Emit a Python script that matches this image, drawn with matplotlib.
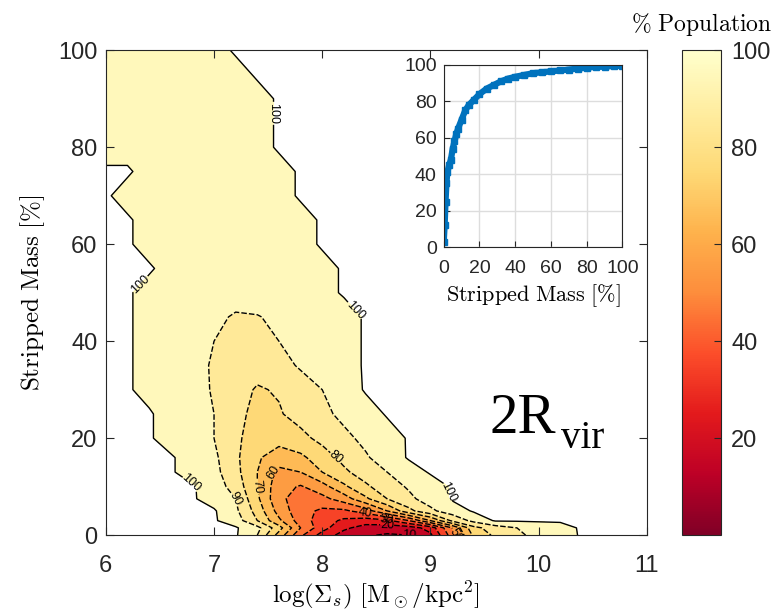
import numpy as np
import matplotlib
matplotlib.use('Agg')
import matplotlib.pyplot as plt
from matplotlib.colors import Normalize
from matplotlib.cm import ScalarMappable

plt.rcParams['font.family'] = ['Liberation Sans', 'DejaVu Sans']
plt.rcParams['mathtext.fontset'] = 'cm'

n = np.nan

# grid of the % population map
log_sigma = [6.0, 6.2, 6.4, 6.6, 6.8, 7.0, 7.2, 7.4, 7.6, 7.8, 8.0, 8.2,
             8.4, 8.6, 8.8, 9.0, 9.2, 9.4, 9.6, 9.8, 10.0, 10.2, 10.4]
stripped = [0, 1.5, 3, 5, 7.5, 10, 13, 16, 20, 25, 30, 35, 40, 45,
            50, 55, 60, 65, 70, 75, 80, 85, 90, 95, 100]
population = [
    [n, n, n, n, n, n, n, 90, 66, 42, 26, 16, 11, 9, 10, 18, 45, 72, 82, 88, 93, 96, n],
    [n, n, n, n, n, n, n, 93, 74, 50, 34, 22, 16, 14, 15, 24, 50, 77, 85, 90, 95, 97, n],
    [n, n, n, n, n, n, 95, 80, 62, 45, 35, 28, 25, 28, 40, 60, 82, 93, n, n, n, n, n],
    [n, n, n, n, n, n, 92, 76, 56, 44, 38, 38, 45, 60, 77, 88, 95, n, n, n, n, n, n],
    [n, n, n, n, n, 96, 90, 72, 52, 46, 47, 55, 68, 80, 88, 94, n, n, n, n, n, n, n],
    [n, n, n, n, n, 95, 86, 70, 54, 49, 56, 68, 78, 86, 91, 95, n, n, n, n, n, n, n],
    [n, n, n, n, 96, 93, 83, 70, 57, 60, 70, 78, 85, 90, 95, n, n, n, n, n, n, n, n],
    [n, n, n, n, 96, 92, 82, 71, 66, 68, 75, 83, 89, 94, n, n, n, n, n, n, n, n, n],
    [n, n, n, 96, 94, 90, 82, 75, 73, 77, 83, 88, 92, 95, n, n, n, n, n, n, n, n, n],
    [n, n, n, 96, 94, 90, 83, 77, 79, 84, 88, 92, 95, n, n, n, n, n, n, n, n, n, n],
    [n, n, 97, 96, 94, 89, 84, 79, 81, 86, 90, 94, n, n, n, n, n, n, n, n, n, n, n],
    [n, n, 97, 96, 93, 89, 86, 84, 87, 91, 94, 96, n, n, n, n, n, n, n, n, n, n, n],
    [n, n, 97, 96, 94, 90, 88, 87, 90, 93, 95, 96, n, n, n, n, n, n, n, n, n, n, n],
    [n, n, 97, 96, 95, 92, 89, 89.5, 92, 94, 95, 96, n, n, n, n, n, n, n, n, n, n, n],
    [n, n, 97, 97, 97, 96, 94, 95, 96, 97, 97, n, n, n, n, n, n, n, n, n, n, n, n],
    [n, n, n, 97, 97, 97, 97, 97, 97, 97, 97, n, n, n, n, n, n, n, n, n, n, n, n],
    [n, n, 97, 97, 97, 97, 97, 97, 97, 97, n, n, n, n, n, n, n, n, n, n, n, n, n],
    [n, n, 97, 97, 97, 97, 97, 97, 97, 97, n, n, n, n, n, n, n, n, n, n, n, n, n],
    [n, 97, 97, 97, 97, 97, 97, 97, 97, n, n, n, n, n, n, n, n, n, n, n, n, n, n],
    [n, n, 97, 97, 97, 97, 97, 97, 97, n, n, n, n, n, n, n, n, n, n, n, n, n, n],
    [97, 97, 97, 97, 97, 97, 97, 97, n, n, n, n, n, n, n, n, n, n, n, n, n, n, n],
    [97, 97, 97, 97, 97, 97, 97, 97, n, n, n, n, n, n, n, n, n, n, n, n, n, n, n],
    [97, 97, 97, 97, 97, 97, 97, 97, n, n, n, n, n, n, n, n, n, n, n, n, n, n, n],
    [97, 97, 97, 97, 97, 97, 97, n, n, n, n, n, n, n, n, n, n, n, n, n, n, n, n],
    [97, 97, 97, 97, 97, 97, n, n, n, n, n, n, n, n, n, n, n, n, n, n, n, n, n],
]

# inset: cumulative population vs stripped mass
cum_mass = [0, 0.5, 1, 1.5, 2, 3, 4, 5, 6, 7, 8, 10, 12, 14, 17, 20, 24, 28,
            32, 36, 40, 45, 50, 55, 60, 65, 70, 75, 80, 85, 90, 95, 100]
cum_pop = [3, 12, 25, 35, 41, 45, 48, 54, 58, 62, 65, 70, 75, 78, 81, 84, 87, 89,
           91, 92.5, 93.5, 94.5, 95.5, 96, 96.5, 97, 97.5, 98, 98.5, 99, 99, 99.5, 99.5]

X, Y = np.meshgrid(log_sigma, stripped)
Z = np.array(population, dtype=float)
Zc = np.where(np.isnan(Z), 101, Z)

cmap = plt.get_cmap('YlOrRd_r')
norm = Normalize(vmin=0, vmax=100)
levels = np.arange(0, 101, 10)
tick_col = '#262626'

fig = plt.figure(figsize=(7.84, 6.13), dpi=100)
ax = fig.add_axes([0.135, 0.127, 0.690, 0.791])
ax.contourf(X, Y, Zc, levels=levels, cmap=cmap, norm=norm)
cs_in = ax.contour(X, Y, Zc, levels=levels[1:-1], colors='k', linewidths=1.0,
                   linestyles=[(0, (4, 1.5))])
cs_out = ax.contour(X, Y, Zc, levels=[100], colors='k', linewidths=1.0)
# labels on the outer 100 line where the reference shows them
ax.clabel(cs_out, fmt='%d', fontsize=9, inline=True, inline_spacing=1,
          manual=[(7.65, 87), (6.35, 51), (8.25, 45), (6.75, 9), (9.2, 9)])
ax.clabel(cs_in, fmt='%d', fontsize=9, inline=True, inline_spacing=1)

ax.set_xlim(6, 11)
ax.set_ylim(0, 100)
ax.set_xticks([6, 7, 8, 9, 10, 11])
ax.set_yticks([0, 20, 40, 60, 80, 100])
ax.tick_params(direction='in', top=True, right=True, labelsize=17,
               colors=tick_col, length=6)
ax.tick_params(axis='x', pad=14)
ax.tick_params(axis='y', pad=6)
for s in ax.spines.values():
    s.set_color(tick_col)
ax.set_xlabel(r'$\log(\Sigma_s)\ [\mathrm{M}_\odot/\mathrm{kpc}^2]$', fontsize=18,
              labelpad=2)
ax.set_ylabel(r'$\mathrm{Stripped\ Mass\ [\%]}$', fontsize=18, labelpad=8)
ax.text(9.55, 21, '2R', fontsize=41, family='Liberation Serif', color='black')
ax.text(10.21, 17.9, 'vir', fontsize=28, family='Liberation Serif', color='black')

# colorbar
cax = fig.add_axes([0.870, 0.127, 0.050, 0.791])
cb = fig.colorbar(ScalarMappable(norm=norm, cmap=cmap), cax=cax)
cb.set_ticks([20, 40, 60, 80, 100])
cax.tick_params(direction='in', labelsize=17, colors=tick_col, length=5, pad=7)
cb.outline.set_edgecolor(tick_col)
cax.set_title(r'$\%\ \mathrm{Population}$', fontsize=17, pad=14)

# inset
iax = fig.add_axes([0.566, 0.597, 0.228, 0.297])
iax.plot(cum_mass, cum_pop, color='#0072BD', linewidth=4.5, marker='s',
         markersize=5)
iax.set_xlim(0, 100)
iax.set_ylim(0, 100)
iax.set_xticks([0, 20, 40, 60, 80, 100])
iax.set_yticks([0, 20, 40, 60, 80, 100])
iax.grid(True, color='#dddddd', linewidth=1)
iax.set_axisbelow(True)
iax.tick_params(direction='in', labelsize=14, colors=tick_col, length=4)
iax.tick_params(axis='x', pad=9)
iax.tick_params(axis='y', pad=5)
iax.set_xlabel(r'$\mathrm{Stripped\ Mass\ [\%]}$', fontsize=16, labelpad=4)
for s in iax.spines.values():
    s.set_color(tick_col)

fig.savefig('out.png', dpi=100)
